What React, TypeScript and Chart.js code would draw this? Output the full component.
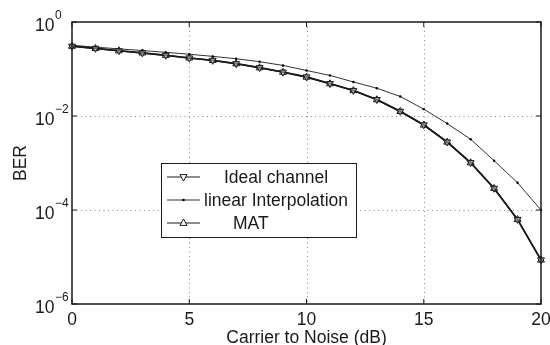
import React, { useEffect, useRef } from 'react';
import { Chart, registerables } from 'chart.js';

Chart.register(...registerables);

const snrDb = [0, 1, 2, 3, 4, 5, 6, 7, 8, 9, 10, 11, 12, 13, 14, 15, 16, 17, 18, 19, 20];
const idealBER = [0.306, 0.275, 0.245, 0.22, 0.196, 0.172, 0.153, 0.13, 0.107, 0.086, 0.068, 0.049, 0.035, 0.0224, 0.0126, 0.0065, 0.0028, 0.00102, 0.00029, 0.000063, 0.0000087];
const linearBER = [0.32, 0.292, 0.268, 0.247, 0.226, 0.206, 0.186, 0.165, 0.143, 0.119, 0.093, 0.073, 0.053, 0.039, 0.026, 0.014, 0.0069, 0.0032, 0.00112, 0.00038, 0.0001];
const matBER = [0.304, 0.273, 0.244, 0.219, 0.195, 0.171, 0.152, 0.129, 0.106, 0.085, 0.067, 0.0485, 0.0347, 0.0222, 0.0125, 0.0064, 0.00278, 0.00101, 0.000288, 0.0000625, 0.0000086];
const xTicks = [0, 5, 10, 15, 20];
const yTickExponents = [0, -2, -4, -6];
const legendLabels = ['Ideal channel', 'linear Interpolation', 'MAT'];
const xTitle = 'Carrier to Noise (dB)';
const yTitle = 'BER';

const FONT = '"Liberation Sans", Arial, Helvetica, sans-serif';
const INK = '#1a1a1a';
const FS = 17.5;

function drawTri(ctx: CanvasRenderingContext2D, x: number, y: number, r: number, down: boolean) {
  ctx.beginPath();
  const s = down ? -1 : 1;
  ctx.moveTo(x, y - s * r);
  ctx.lineTo(x - r * 0.9, y + s * r * 0.6);
  ctx.lineTo(x + r * 0.9, y + s * r * 0.6);
  ctx.closePath();
  ctx.fillStyle = 'rgba(255,255,255,0.9)';
  ctx.fill();
  ctx.strokeStyle = INK;
  ctx.lineWidth = 1;
  ctx.stroke();
}

const decorPlugin = {
  id: 'matlabDecor',
  beforeDatasetsDraw(chart: any) {
    const { ctx, chartArea: a, scales } = chart;
    ctx.save();
    ctx.strokeStyle = '#8a8a8a';
    ctx.lineWidth = 1;
    ctx.setLineDash([1, 3.5]);
    xTicks.forEach((t) => {
      if (t === xTicks[0] || t === xTicks[xTicks.length - 1]) return;
      const x = Math.round(scales.x.getPixelForValue(t)) + 0.5;
      ctx.beginPath();
      ctx.moveTo(x, a.top);
      ctx.lineTo(x, a.bottom);
      ctx.stroke();
    });
    yTickExponents.forEach((e, i) => {
      if (i === 0 || i === yTickExponents.length - 1) return;
      const y = Math.round(scales.y.getPixelForValue(Math.pow(10, e))) + 0.5;
      ctx.beginPath();
      ctx.moveTo(a.left, y);
      ctx.lineTo(a.right, y);
      ctx.stroke();
    });
    ctx.restore();
  },
  afterDatasetsDraw(chart: any) {
    const { ctx, chartArea: a, scales } = chart;
    ctx.save();
    ctx.setLineDash([]);
    ctx.strokeStyle = INK;
    ctx.lineWidth = 1.5;
    ctx.strokeRect(a.left, a.top, a.right - a.left, a.bottom - a.top);
    ctx.lineWidth = 1;
    const tl = 5;
    xTicks.forEach((t) => {
      const x = scales.x.getPixelForValue(t);
      ctx.beginPath();
      ctx.moveTo(x, a.bottom);
      ctx.lineTo(x, a.bottom - tl);
      ctx.moveTo(x, a.top);
      ctx.lineTo(x, a.top + tl);
      ctx.stroke();
    });
    yTickExponents.forEach((e) => {
      const y = scales.y.getPixelForValue(Math.pow(10, e));
      ctx.beginPath();
      ctx.moveTo(a.left, y);
      ctx.lineTo(a.left + tl, y);
      ctx.moveTo(a.right, y);
      ctx.lineTo(a.right - tl, y);
      ctx.stroke();
    });
    ctx.fillStyle = INK;
    ctx.font = `${FS}px ${FONT}`;
    ctx.textAlign = 'center';
    ctx.textBaseline = 'middle';
    xTicks.forEach((t) => {
      ctx.fillText(String(t), scales.x.getPixelForValue(t), a.bottom + 16);
    });
    yTickExponents.forEach((e) => {
      const y = scales.y.getPixelForValue(Math.pow(10, e));
      ctx.font = `${FS}px ${FONT}`;
      ctx.textAlign = 'left';
      ctx.textBaseline = 'middle';
      ctx.fillText('10', 35, y + 4);
      const w = ctx.measureText('10').width;
      ctx.font = `12px ${FONT}`;
      ctx.fillText(e === 0 ? '0' : '\u2212' + String(-e), 35 + w + 0.5, y - 6);
    });
    ctx.font = `${FS}px ${FONT}`;
    ctx.textAlign = 'center';
    ctx.textBaseline = 'middle';
    ctx.fillText(xTitle, (a.left + a.right) / 2, a.bottom + 34);
    ctx.save();
    ctx.translate(21, (a.top + a.bottom) / 2);
    ctx.rotate(-Math.PI / 2);
    ctx.fillText(yTitle, 0, 0);
    ctx.restore();
    const bx = 161, by = 163, bw = 195, bh = 74;
    ctx.fillStyle = '#ffffff';
    ctx.fillRect(bx, by, bw, bh);
    ctx.strokeStyle = INK;
    ctx.lineWidth = 1;
    ctx.strokeRect(bx + 0.5, by + 0.5, bw, bh);
    const rows = [177, 200, 223];
    const textX = [224, 204, 233];
    rows.forEach((ry, i) => {
      ctx.strokeStyle = i === 1 ? '#333' : INK;
      ctx.lineWidth = 1;
      ctx.beginPath();
      ctx.moveTo(167, ry);
      ctx.lineTo(200, ry);
      ctx.stroke();
      if (i === 0) drawTri(ctx, 183.5, ry, 4, true);
      else if (i === 2) drawTri(ctx, 183.5, ry, 4, false);
      else {
        ctx.fillStyle = '#000';
        ctx.beginPath();
        ctx.arc(183.5, ry, 1.3, 0, Math.PI * 2);
        ctx.fill();
      }
      ctx.fillStyle = INK;
      ctx.font = `${FS}px ${FONT}`;
      ctx.textAlign = 'left';
      ctx.textBaseline = 'middle';
      ctx.fillText(legendLabels[i], textX[i], ry + 1);
    });
    ctx.restore();
  },
};

export default function App() {
  const ref = useRef<HTMLCanvasElement | null>(null);
  useEffect(() => {
    if (!ref.current) return;
    const pts = (arr: number[]) => snrDb.map((x, i) => ({ x, y: arr[i] }));
    const chart = new Chart(ref.current, {
      type: 'line',
      data: {
        datasets: [
          {
            label: legendLabels[0],
            data: pts(idealBER),
            borderColor: INK,
            borderWidth: 1.6,
            pointStyle: 'triangle',
            rotation: 180,
            pointRadius: 4,
            pointBackgroundColor: 'rgba(200,200,200,0.5)',
            pointBorderColor: INK,
            pointBorderWidth: 1,
            tension: 0,
            clip: false,
          },
          {
            label: legendLabels[1],
            data: pts(linearBER),
            borderColor: '#333333',
            borderWidth: 1,
            pointStyle: 'circle',
            pointRadius: 1.2,
            pointBackgroundColor: '#000',
            pointBorderColor: '#000',
            pointBorderWidth: 0,
            tension: 0,
            clip: false,
          },
          {
            label: legendLabels[2],
            data: pts(matBER),
            borderColor: INK,
            borderWidth: 1.6,
            pointStyle: 'triangle',
            rotation: 0,
            pointRadius: 4,
            pointBackgroundColor: 'rgba(200,200,200,0.5)',
            pointBorderColor: INK,
            pointBorderWidth: 1,
            tension: 0,
            clip: false,
          },
        ],
      },
      options: {
        animation: false,
        responsive: false,
        maintainAspectRatio: false,
        layout: { padding: { left: 72, right: 9, top: 22, bottom: 41 } },
        plugins: { legend: { display: false }, tooltip: { enabled: false }, title: { display: false } },
        scales: {
          x: { type: 'linear', min: 0, max: 20, display: false },
          y: { type: 'logarithmic', min: 1e-6, max: 1, display: false },
        },
      },
      plugins: [decorPlugin],
    });
    return () => chart.destroy();
  }, []);
  return (
    <div style={{ position: 'fixed', left: 0, top: 0, width: 550, height: 345, background: '#fff' }}>
      <canvas ref={ref} width={550} height={345} style={{ display: 'block', width: 550, height: 345 }} />
    </div>
  );
}
